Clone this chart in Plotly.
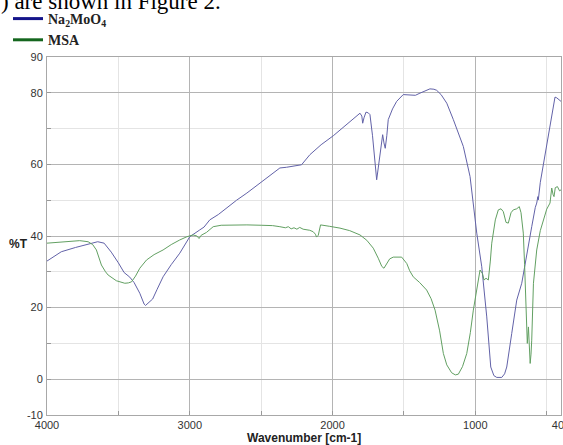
import plotly.graph_objects as go

# ---- data ----
na_wn = [4000, 3900, 3800, 3700, 3645, 3600, 3550, 3500, 3460, 3420, 3390, 3350, 3320, 3310,
         3290, 3260, 3230, 3187, 3130, 3070, 3000, 2960, 2930, 2900, 2860, 2800, 2719, 2672,
         2600, 2500, 2420, 2369, 2322, 2260, 2217, 2159, 2080, 1995, 1900, 1808, 1795, 1789,
         1780, 1766, 1750, 1738, 1720, 1700, 1691, 1680, 1668, 1649, 1640, 1631, 1620, 1610,
         1580, 1551, 1505, 1458, 1420, 1388, 1350, 1318, 1290, 1271, 1240, 1200, 1154, 1120,
         1084, 1037, 1002, 990, 955, 920, 892, 870, 850, 815, 795, 780, 745, 710, 675, 640,
         605, 580, 570, 562, 559, 545, 520, 500, 465, 442, 430, 418, 400]
na_t = [33.0, 35.6, 36.8, 37.9, 38.4, 38.0, 35.5, 32.5, 29.8, 28.5, 27.0, 24.0, 21.0, 20.6,
        21.3, 22.4, 25.0, 28.6, 32.0, 35.2, 39.8, 41.0, 41.7, 42.5, 44.5, 46.0, 48.7, 50.0,
        52.0, 55.0, 57.5, 59.0, 59.2, 59.5, 59.9, 62.7, 65.5, 68.0, 71.2, 74.3, 73.5, 71.5,
        73.0, 74.6, 74.4, 73.9, 68.0, 60.0, 55.7, 59.0, 63.1, 68.3, 66.0, 64.5, 68.0, 72.5,
        75.5, 77.6, 79.5, 79.5, 79.3, 79.9, 80.6, 81.1, 81.0, 80.7, 79.5, 77.1, 72.5, 69.0,
        65.0, 56.6, 44.5, 40.8, 31.4, 17.4, 3.4, 1.0, 0.5, 0.5, 1.5, 3.4, 12.8, 22.1, 26.8, 35.2,
        42.6, 48.0, 49.2, 51.0, 50.1, 55.0, 61.0, 65.9, 74.3, 78.8, 78.6, 78.3, 77.6]

msa_wn = [4000, 3900, 3800, 3771, 3712, 3680, 3654, 3619, 3590, 3572, 3514, 3455, 3430, 3408,
          3380, 3350, 3303, 3250, 3187, 3130, 3070, 3020, 2977, 2950, 2935, 2920, 2883, 2836,
          2780, 2719, 2600, 2500, 2420, 2369, 2330, 2310, 2290, 2270, 2250, 2230, 2206, 2160,
          2136, 2120, 2112, 2100, 2090, 2084, 2020, 1948, 1880, 1808, 1760, 1715, 1680, 1655,
          1640, 1620, 1600, 1575, 1540, 1516, 1480, 1460, 1435, 1390, 1341, 1310, 1282, 1250,
          1224, 1200, 1166, 1140, 1119, 1090, 1060, 1035, 1014, 990, 967, 950, 939, 925, 909,
          895, 885, 860, 839, 820, 804, 785, 769, 750, 734, 710, 692, 680, 664, 655, 645, 636,
          628, 622, 616, 610, 605, 593, 570, 545, 523, 500, 477, 465, 455, 449, 440, 425, 410, 400]
msa_t = [38.0, 38.3, 38.6, 38.7, 38.4, 37.6, 36.1, 31.9, 30.0, 29.1, 27.5, 26.8, 26.9, 27.2,
         28.8, 31.0, 33.3, 34.8, 36.1, 37.6, 38.9, 39.8, 40.3, 40.0, 39.3, 40.2, 41.0, 42.6,
         43.0, 43.1, 43.1, 43.0, 42.9, 42.6, 42.3, 42.6, 42.0, 42.3, 41.9, 42.4, 41.9, 41.6,
         41.2, 40.5, 39.7, 40.2, 42.8, 43.1, 42.7, 42.2, 41.5, 40.3, 38.8, 36.6, 33.8, 31.5,
         31.0, 32.5, 33.6, 34.1, 34.2, 34.1, 32.3, 30.3, 28.6, 27.0, 24.9, 22.5, 19.3, 13.5,
         7.2, 4.0, 1.8, 1.2, 1.4, 3.5, 7.2, 13.0, 19.3, 25.5, 30.5, 29.5, 27.7, 28.2, 27.7,
         33.0, 38.0, 44.5, 47.3, 47.6, 46.8, 43.8, 43.6, 46.5, 47.3, 47.6, 48.2, 46.5, 40.8, 32.0, 22.1, 10.0,
         14.6, 8.0, 4.4, 7.0, 10.9, 26.8, 36.1, 41.5, 44.5, 47.5, 49.2, 53.4, 51.5, 51.0, 53.5, 53.8, 52.6, 52.9]

series_names = ["Na<sub>2</sub>MoO<sub>4</sub>", "MSA"]
x_ticks = [4000, 3000, 2000, 1000, 400]
x_minor = [3500, 2500, 1500, 500]
y_ticks = [-10, 0, 20, 40, 60, 80, 90]
y_minor = [10, 30, 50, 70]

W, H = 563, 445
L, R, T, B = 47, 2, 57, 30
plot_h = H - T - B

fig = go.Figure()
fig.add_trace(go.Scatter(x=na_wn, y=na_t, mode="lines", showlegend=False,
                         line=dict(color="#6262a8", width=1)))
fig.add_trace(go.Scatter(x=msa_wn, y=msa_t, mode="lines", showlegend=False,
                         line=dict(color="#62a062", width=1)))
# legend entries (darker swatches as in the reference)
fig.add_trace(go.Scatter(x=[None], y=[None], mode="lines", name="<b>" + series_names[0] + "</b>",
                         line=dict(color="#14148a", width=3)))
fig.add_trace(go.Scatter(x=[None], y=[None], mode="lines", name="<b>" + series_names[1] + "</b>",
                         line=dict(color="#14661e", width=3)))

axis_common = dict(showline=True, linecolor="#a8a8a8", linewidth=1, mirror=True,
                   gridcolor="#b4b4b4", gridwidth=1, zeroline=False,
                   tickfont=dict(family="Liberation Sans, Arial", size=11, color="#333"),
                   ticks="inside", ticklen=4, tickcolor="#999")

fig.update_xaxes(range=[4000, 400], tickvals=x_ticks, ticktext=[str(v) for v in x_ticks],
                 ticklabeloverflow="allow",
                 minor=dict(tickvals=x_minor, showgrid=True, gridcolor="#e4e4e4",
                            ticks="inside", ticklen=4, tickcolor="#999"),
                 **axis_common)
fig.update_yaxes(range=[-10, 90], tickvals=y_ticks, ticktext=[str(v) for v in y_ticks],
                 minor=dict(tickvals=y_minor, showgrid=True, gridcolor="#e4e4e4",
                            ticks="inside", ticklen=4, tickcolor="#999"),
                 ticklabelstandoff=1, **axis_common)

def py(p):  # pixel y -> paper y
    return (H - B - p) / plot_h

def px(p):
    return (p - L) / (W - L - R)

fig.add_annotation(text="<b>%T</b>", xref="paper", yref="paper", x=px(18), y=py(244),
                   xanchor="center", yanchor="middle",
                   showarrow=False, font=dict(family="Liberation Sans, Arial", size=12, color="#222"))
fig.add_annotation(text="<b>Wavenumber [cm-1]</b>", xref="paper", yref="paper", x=0.5, y=py(438),
                   xanchor="center", yanchor="middle",
                   showarrow=False, font=dict(family="Liberation Sans, Arial", size=12, color="#222"))
fig.add_annotation(text=") are shown in Figure 2.", xref="paper", yref="paper", x=px(-1), y=py(16),
                   xanchor="left", yanchor="bottom", showarrow=False,
                   font=dict(family="Liberation Serif, Times New Roman", size=23, color="#000"))

fig.update_layout(
    width=W, height=H, margin=dict(l=L, r=R, t=T, b=B, autoexpand=False),
    paper_bgcolor="white", plot_bgcolor="white",
    legend=dict(x=px(8), y=py(3), xanchor="left", yanchor="top",
                font=dict(family="Liberation Serif, Times New Roman", size=14, color="#222"),
                bgcolor="rgba(0,0,0,0)", tracegroupgap=0, itemwidth=30),
)

fig.write_html("out.html", config={"displayModeBar": False},
               post_script="document.body.style.margin='0';document.body.style.overflow='hidden';")
